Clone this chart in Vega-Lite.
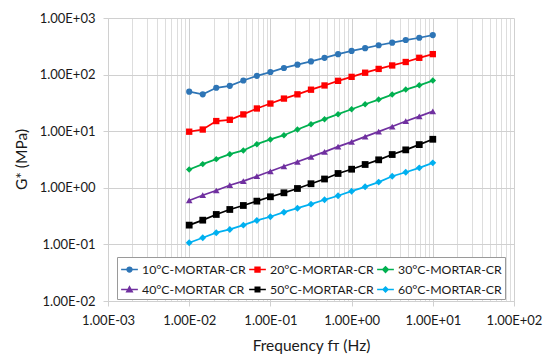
{
  "$schema": "https://vega.github.io/schema/vega-lite/v6.json",
  "autosize": {"type": "none"},
  "padding": {"left": 108, "top": 18, "right": 36, "bottom": 62},
  "width": 406,
  "height": 283,
  "background": "white",
  "config": {
    "view": {"stroke": null},
    "font": "Lato"
  },
  "datasets": {
    "d": [
      {"s":"10°C-MORTAR-CR","f":0.01,"g":50},{"s":"10°C-MORTAR-CR","f":0.01468,"g":44.8},{"s":"10°C-MORTAR-CR","f":0.02154,"g":58.5},{"s":"10°C-MORTAR-CR","f":0.03162,"g":63.4},{"s":"10°C-MORTAR-CR","f":0.04642,"g":78.6},{"s":"10°C-MORTAR-CR","f":0.06813,"g":95},{"s":"10°C-MORTAR-CR","f":0.1,"g":111},{"s":"10°C-MORTAR-CR","f":0.1468,"g":131},{"s":"10°C-MORTAR-CR","f":0.2154,"g":150},{"s":"10°C-MORTAR-CR","f":0.3162,"g":171},{"s":"10°C-MORTAR-CR","f":0.4642,"g":198},{"s":"10°C-MORTAR-CR","f":0.6813,"g":230},{"s":"10°C-MORTAR-CR","f":1,"g":262},{"s":"10°C-MORTAR-CR","f":1.468,"g":293},{"s":"10°C-MORTAR-CR","f":2.154,"g":330},{"s":"10°C-MORTAR-CR","f":3.162,"g":366},{"s":"10°C-MORTAR-CR","f":4.642,"g":408},{"s":"10°C-MORTAR-CR","f":6.813,"g":448},{"s":"10°C-MORTAR-CR","f":10,"g":499},
      {"s":"20°C-MORTAR-CR","f":0.01,"g":9.8},{"s":"20°C-MORTAR-CR","f":0.01468,"g":10.7},{"s":"20°C-MORTAR-CR","f":0.02154,"g":15.1},{"s":"20°C-MORTAR-CR","f":0.03162,"g":15.9},{"s":"20°C-MORTAR-CR","f":0.04642,"g":19.8},{"s":"20°C-MORTAR-CR","f":0.06813,"g":25.2},{"s":"20°C-MORTAR-CR","f":0.1,"g":30.8},{"s":"20°C-MORTAR-CR","f":0.1468,"g":37.7},{"s":"20°C-MORTAR-CR","f":0.2154,"g":44.8},{"s":"20°C-MORTAR-CR","f":0.3162,"g":54.1},{"s":"20°C-MORTAR-CR","f":0.4642,"g":64.3},{"s":"20°C-MORTAR-CR","f":0.6813,"g":77.6},{"s":"20°C-MORTAR-CR","f":1,"g":91.2},{"s":"20°C-MORTAR-CR","f":1.468,"g":108},{"s":"20°C-MORTAR-CR","f":2.154,"g":126},{"s":"20°C-MORTAR-CR","f":3.162,"g":145},{"s":"20°C-MORTAR-CR","f":4.642,"g":167},{"s":"20°C-MORTAR-CR","f":6.813,"g":198},{"s":"20°C-MORTAR-CR","f":10,"g":230},
      {"s":"30°C-MORTAR-CR","f":0.01,"g":2.11},{"s":"30°C-MORTAR-CR","f":0.01468,"g":2.62},{"s":"30°C-MORTAR-CR","f":0.02154,"g":3.21},{"s":"30°C-MORTAR-CR","f":0.03162,"g":3.93},{"s":"30°C-MORTAR-CR","f":0.04642,"g":4.57},{"s":"30°C-MORTAR-CR","f":0.06813,"g":5.9},{"s":"30°C-MORTAR-CR","f":0.1,"g":7.15},{"s":"30°C-MORTAR-CR","f":0.1468,"g":8.5},{"s":"30°C-MORTAR-CR","f":0.2154,"g":10.7},{"s":"30°C-MORTAR-CR","f":0.3162,"g":13.3},{"s":"30°C-MORTAR-CR","f":0.4642,"g":16.3},{"s":"30°C-MORTAR-CR","f":0.6813,"g":20},{"s":"30°C-MORTAR-CR","f":1,"g":24.4},{"s":"30°C-MORTAR-CR","f":1.468,"g":29.9},{"s":"30°C-MORTAR-CR","f":2.154,"g":36.2},{"s":"30°C-MORTAR-CR","f":3.162,"g":44.4},{"s":"30°C-MORTAR-CR","f":4.642,"g":54.3},{"s":"30°C-MORTAR-CR","f":6.813,"g":64.7},{"s":"30°C-MORTAR-CR","f":10,"g":78.3},
      {"s":"40°C-MORTAR CR","f":0.01,"g":0.597},{"s":"40°C-MORTAR CR","f":0.01468,"g":0.74},{"s":"40°C-MORTAR CR","f":0.02154,"g":0.896},{"s":"40°C-MORTAR CR","f":0.03162,"g":1.11},{"s":"40°C-MORTAR CR","f":0.04642,"g":1.31},{"s":"40°C-MORTAR CR","f":0.06813,"g":1.6},{"s":"40°C-MORTAR CR","f":0.1,"g":1.96},{"s":"40°C-MORTAR CR","f":0.1468,"g":2.4},{"s":"40°C-MORTAR CR","f":0.2154,"g":2.88},{"s":"40°C-MORTAR CR","f":0.3162,"g":3.52},{"s":"40°C-MORTAR CR","f":0.4642,"g":4.31},{"s":"40°C-MORTAR CR","f":0.6813,"g":5.35},{"s":"40°C-MORTAR CR","f":1,"g":6.47},{"s":"40°C-MORTAR CR","f":1.468,"g":8.03},{"s":"40°C-MORTAR CR","f":2.154,"g":9.84},{"s":"40°C-MORTAR CR","f":3.162,"g":12.1},{"s":"40°C-MORTAR CR","f":4.642,"g":15},{"s":"40°C-MORTAR CR","f":6.813,"g":18.3},{"s":"40°C-MORTAR CR","f":10,"g":22.4},
      {"s":"50°C-MORTAR-CR","f":0.01,"g":0.219},{"s":"50°C-MORTAR-CR","f":0.01468,"g":0.268},{"s":"50°C-MORTAR-CR","f":0.02154,"g":0.338},{"s":"50°C-MORTAR-CR","f":0.03162,"g":0.414},{"s":"50°C-MORTAR-CR","f":0.04642,"g":0.487},{"s":"50°C-MORTAR-CR","f":0.06813,"g":0.581},{"s":"50°C-MORTAR-CR","f":0.1,"g":0.694},{"s":"50°C-MORTAR-CR","f":0.1468,"g":0.816},{"s":"50°C-MORTAR-CR","f":0.2154,"g":0.972},{"s":"50°C-MORTAR-CR","f":0.3162,"g":1.18},{"s":"50°C-MORTAR-CR","f":0.4642,"g":1.43},{"s":"50°C-MORTAR-CR","f":0.6813,"g":1.79},{"s":"50°C-MORTAR-CR","f":1,"g":2.13},{"s":"50°C-MORTAR-CR","f":1.468,"g":2.58},{"s":"50°C-MORTAR-CR","f":2.154,"g":3.12},{"s":"50°C-MORTAR-CR","f":3.162,"g":3.87},{"s":"50°C-MORTAR-CR","f":4.642,"g":4.68},{"s":"50°C-MORTAR-CR","f":6.813,"g":5.8},{"s":"50°C-MORTAR-CR","f":10,"g":7.2},
      {"s":"60°C-MORTAR-CR","f":0.01,"g":0.107},{"s":"60°C-MORTAR-CR","f":0.01468,"g":0.131},{"s":"60°C-MORTAR-CR","f":0.02154,"g":0.161},{"s":"60°C-MORTAR-CR","f":0.03162,"g":0.184},{"s":"60°C-MORTAR-CR","f":0.04642,"g":0.219},{"s":"60°C-MORTAR-CR","f":0.06813,"g":0.265},{"s":"60°C-MORTAR-CR","f":0.1,"g":0.308},{"s":"60°C-MORTAR-CR","f":0.1468,"g":0.371},{"s":"60°C-MORTAR-CR","f":0.2154,"g":0.436},{"s":"60°C-MORTAR-CR","f":0.3162,"g":0.514},{"s":"60°C-MORTAR-CR","f":0.4642,"g":0.614},{"s":"60°C-MORTAR-CR","f":0.6813,"g":0.723},{"s":"60°C-MORTAR-CR","f":1,"g":0.871},{"s":"60°C-MORTAR-CR","f":1.468,"g":1.04},{"s":"60°C-MORTAR-CR","f":2.154,"g":1.26},{"s":"60°C-MORTAR-CR","f":3.162,"g":1.6},{"s":"60°C-MORTAR-CR","f":4.642,"g":1.88},{"s":"60°C-MORTAR-CR","f":6.813,"g":2.25},{"s":"60°C-MORTAR-CR","f":10,"g":2.76}
    ]
  },
  "data": {"name": "d"},
  "resolve": {"axis": {"x": "independent", "y": "independent"}},
  "layer": [
    {
      "mark": {"type": "line", "strokeWidth": 1.75},
      "encoding": {
        "x": {
          "field": "f", "type": "quantitative",
          "scale": {"type": "log", "domain": [0.001, 100], "nice": false},
          "axis": {
            "orient": "bottom",
            "values": [0.001, 0.01, 0.1, 1, 10, 100],
            "labelExpr": "'1.00E' + (round(log(datum.value)/LN10) < 0 ? '-0' + (-round(log(datum.value)/LN10)) : '+0' + round(log(datum.value)/LN10))",
            "grid": true, "gridColor": "#d0d0d0", "gridWidth": 1,
            "domain": true, "domainColor": "#d0d0d0",
            "ticks": true, "tickColor": "#d0d0d0", "tickSize": 5,
            "labelFont": "Lato", "labelFontSize": 13, "labelColor": "#1a1a1a", "labelPadding": 8,
            "labelFlush": false, "labelOverlap": false,
            "title": "Frequency fᴛ (Hz)",
            "titleFont": "Lato", "titleFontSize": 15.5, "titleFontWeight": "normal", "titleColor": "#1a1a1a",
            "titleX": 203, "titleY": 49, "titleBaseline": "alphabetic"
          }
        },
        "y": {
          "field": "g", "type": "quantitative",
          "scale": {"type": "log", "domain": [0.01, 1000], "nice": false},
          "axis": {
            "orient": "left",
            "values": [0.01, 0.1, 1, 10, 100, 1000],
            "labelExpr": "'1.00E' + (round(log(datum.value)/LN10) < 0 ? '-0' + (-round(log(datum.value)/LN10)) : '+0' + round(log(datum.value)/LN10))",
            "grid": true, "gridColor": "#d0d0d0", "gridWidth": 1,
            "domain": true, "domainColor": "#d0d0d0",
            "ticks": true, "tickColor": "#d0d0d0", "tickSize": 5,
            "labelFont": "Lato", "labelFontSize": 13, "labelColor": "#1a1a1a", "labelPadding": 8,
            "labelFlush": false, "labelOverlap": false,
            "title": "G* (MPa)",
            "titleFont": "Lato", "titleFontSize": 15.5, "titleFontWeight": "normal", "titleColor": "#1a1a1a",
            "titleX": -82, "titleY": 141, "titleAngle": -90, "titleBaseline": "alphabetic", "titleAlign": "center"
          }
        },
        "color": {
          "field": "s", "type": "nominal",
          "scale": {
            "domain": ["10°C-MORTAR-CR", "20°C-MORTAR-CR", "30°C-MORTAR-CR", "40°C-MORTAR CR", "50°C-MORTAR-CR", "60°C-MORTAR-CR"],
            "range": ["#2E75B6", "#FF0000", "#00B050", "#7030A0", "#000000", "#00B0F0"]
          },
          "legend": {
            "title": null,
            "orient": "none", "legendX": 9, "legendY": 239,
            "direction": "horizontal",
            "columns": 3, "columnPadding": 0, "rowPadding": 4,
            "padding": 3,
            "fillColor": "white", "strokeColor": "#9a9a9a",
            "symbolSize": 280,
            "labelFont": "Lato", "labelFontSize": 12.3, "labelColor": "#1a1a1a", "labelOffset": 3, "labelLimit": 300,
            "encode": {
              "symbols": {
                "update": {
                  "shape": {"signal": "datum.value === '10°C-MORTAR-CR' ? 'M-1,0H1M-0.29,0A0.29,0.29,0,1,0,0.29,0A0.29,0.29,0,1,0,-0.29,0Z' : datum.value === '20°C-MORTAR-CR' ? 'M-1,0H1M-0.29,-0.29H0.29V0.29H-0.29Z' : datum.value === '30°C-MORTAR-CR' ? 'M-1,0H1M0,-0.33L0.33,0L0,0.33L-0.33,0Z' : datum.value === '40°C-MORTAR CR' ? 'M-1,0H1M0,-0.33L0.33,0.27H-0.33Z' : datum.value === '50°C-MORTAR-CR' ? 'M-1,0H1M-0.27,-0.27H0.27V0.27H-0.27Z' : 'M-1,0H1M0,-0.29L0.29,0L0,0.29L-0.29,0Z'"},
                  "size": {"value": 280},
                  "stroke": {"scale": "color", "field": "value"},
                  "fill": {"scale": "color", "field": "value"},
                  "strokeWidth": {"value": 1.5},
                  "opacity": {"value": 1}
                }
              }
            }
          }
        }
      }
    },
    {
      "mark": {"type": "point", "filled": true, "opacity": 1, "strokeWidth": 0},
      "encoding": {
        "x": {
          "field": "f", "type": "quantitative",
          "axis": {
            "orient": "bottom",
            "values": [0.002,0.003,0.004,0.005,0.006,0.007,0.008,0.009,0.02,0.03,0.04,0.05,0.06,0.07,0.08,0.09,0.2,0.3,0.4,0.5,0.6,0.7,0.8,0.9,2,3,4,5,6,7,8,9,20,30,40,50,60,70,80,90],
            "grid": true, "gridColor": "#dddddd", "gridWidth": 1,
            "domain": false, "ticks": false, "labels": false, "title": null
          }
        },
        "y": {"field": "g", "type": "quantitative", "axis": null},
        "color": {"field": "s", "type": "nominal"},
        "shape": {
          "field": "s", "type": "nominal",
          "scale": {"range": ["circle", "square", "diamond", "triangle-up", "square", "diamond"]},
          "legend": null
        },
        "size": {
          "field": "s", "type": "nominal",
          "scale": {"range": [38, 48, 30, 34, 36, 22]},
          "legend": null
        }
      }
    }
  ]
}
